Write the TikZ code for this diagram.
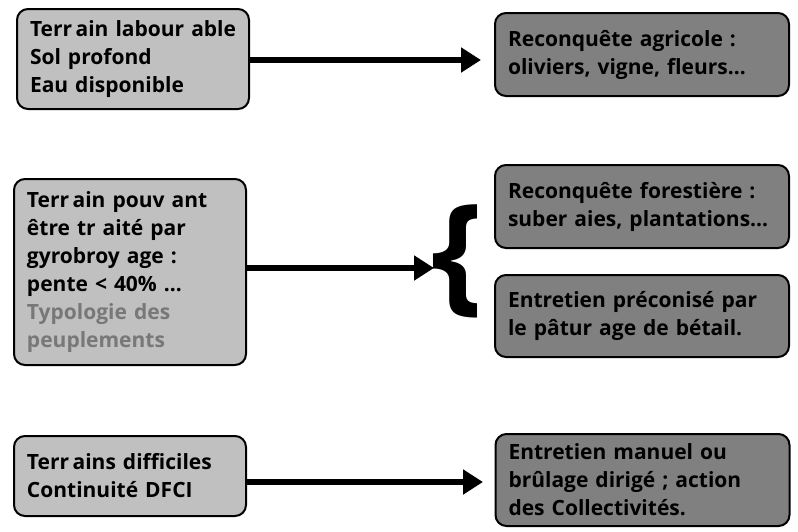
\documentclass[tikz,border=0pt]{standalone}
\usepackage{fontspec}
\setmainfont{Open Sans}
\usetikzlibrary{arrows.meta,calc}
\definecolor{lightbox}{HTML}{C0C0C0}
\definecolor{darkbox}{HTML}{808080}
\definecolor{graytext}{HTML}{787878}
\begin{document}
\begin{tikzpicture}[x=1pt,y=-1pt,
  box/.style={draw=black, line width=2pt, rounded corners=11pt, align=left,
    inner xsep=13pt, inner ysep=0pt, font=\fontsize{21}{28}\selectfont\bfseries},
  lbox/.style={box, fill=lightbox, text width=206pt},
  dbox/.style={box, fill=darkbox, text width=268pt},
  arr/.style={line width=6pt, -{Triangle[length=20pt,width=24pt]}}]
\useasboundingbox (0,0) rectangle (798,531);
\node[lbox, minimum height=100pt] (l1) at (133,59) {Terr\,ain~labour~able\\Sol~profond\\Eau~disponible};
\node[dbox, minimum height=83pt] (r1) at (642,54.5) {Reconquête agricole :\\oliviers, vigne, fleurs…};
\node[lbox, minimum height=186pt] (l2) at (130,272) {Terr\,ain~pouv~ant\\être~tr~aité~par\\gyrobroy~age~:\\pente~<~40\%~…\\\textcolor{graytext}{Typologie~des}\\\textcolor{graytext}{peuplements}};
\node[dbox, minimum height=83pt] (r2a) at (642,206.5) {Reconquête forestière :\\suber aies, plantations…};
\node[dbox, minimum height=82pt] (r2b) at (642,316) {Entretien préconisé par\\le pâtur age de bétail.};
\node[lbox, minimum height=80pt] (l3) at (130,476) {Terr\,ains~difficiles\\Continuité~DFCI};
\node[dbox, minimum height=92pt] (r3) at (642.5,480) {Entretien manuel ou\\brûlage dirigé ; action\\des Collectivités.};
\node[inner sep=0pt, font=\fontsize{130}{130}\selectfont\bfseries] (br) at (457,261) {\{};
\coordinate (e1) at (481,60);
\coordinate (e2) at (434,268);
\coordinate (e3) at (483,482);
\draw[arr] (l1.east |- e1) -- (e1);
\draw[arr] (l2.east |- e2) -- (e2);
\draw[arr] (l3.east |- e3) -- (e3);
\end{tikzpicture}
\end{document}
